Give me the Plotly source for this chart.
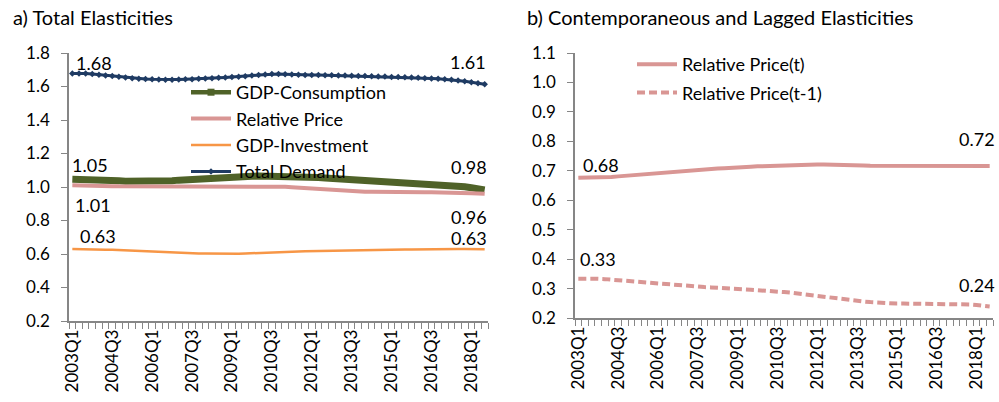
import plotly.graph_objects as go

# ---------------- data ----------------
quarters = [f"{y}Q{q}" for y in range(2003, 2019) for q in range(1, 5)][:63]  # 2003Q1..2018Q3

total_demand = [
    1.677, 1.678, 1.677, 1.674, 1.670, 1.666,
    1.662, 1.658, 1.654, 1.650, 1.647, 1.645,
    1.643, 1.642, 1.641, 1.641, 1.642, 1.643,
    1.644, 1.646, 1.648, 1.650, 1.652, 1.654,
    1.656, 1.658, 1.661, 1.665, 1.669, 1.672,
    1.674, 1.674, 1.673, 1.671, 1.670, 1.669,
    1.668, 1.668, 1.667, 1.667, 1.666, 1.665,
    1.664, 1.663, 1.662, 1.661, 1.660, 1.659,
    1.657, 1.656, 1.655, 1.654, 1.652, 1.650,
    1.648, 1.646, 1.643, 1.640, 1.636, 1.631,
    1.625, 1.619, 1.613]

gdp_consumption = [
    1.047, 1.047, 1.046, 1.045, 1.043, 1.041,
    1.039, 1.037, 1.035, 1.034, 1.033, 1.033,
    1.033, 1.034, 1.036, 1.038, 1.041, 1.044,
    1.047, 1.050, 1.053, 1.055, 1.057, 1.059,
    1.061, 1.062, 1.063, 1.064, 1.065, 1.065,
    1.065, 1.064, 1.063, 1.062, 1.060, 1.059,
    1.058, 1.056, 1.054, 1.052, 1.050, 1.048,
    1.046, 1.044, 1.042, 1.040, 1.038, 1.036,
    1.034, 1.032, 1.030, 1.028, 1.026, 1.024,
    1.021, 1.018, 1.015, 1.011, 1.007, 1.002,
    0.996, 0.990, 0.983]

relative_price = [
    1.010, 1.010, 1.009, 1.008, 1.007, 1.006,
    1.005, 1.004, 1.004, 1.004, 1.004, 1.004,
    1.004, 1.004, 1.004, 1.005, 1.005, 1.005,
    1.005, 1.006, 1.006, 1.006, 1.006, 1.006,
    1.006, 1.006, 1.006, 1.006, 1.005, 1.005,
    1.004, 1.003, 1.001, 0.999, 0.996, 0.993,
    0.990, 0.987, 0.984, 0.981, 0.979, 0.977,
    0.975, 0.973, 0.972, 0.971, 0.970, 0.969,
    0.969, 0.968, 0.968, 0.968, 0.968, 0.968,
    0.968, 0.968, 0.968, 0.967, 0.966, 0.965,
    0.963, 0.961, 0.959]

gdp_investment = [
    0.630, 0.630, 0.629, 0.628, 0.627, 0.626,
    0.625, 0.623, 0.621, 0.619, 0.617, 0.615,
    0.613, 0.611, 0.609, 0.608, 0.606, 0.605,
    0.604, 0.603, 0.603, 0.602, 0.602, 0.602,
    0.602, 0.602, 0.603, 0.605, 0.607, 0.609,
    0.611, 0.612, 0.613, 0.614, 0.615, 0.616,
    0.617, 0.618, 0.619, 0.620, 0.620, 0.621,
    0.622, 0.622, 0.623, 0.624, 0.624, 0.625,
    0.626, 0.626, 0.627, 0.627, 0.628, 0.628,
    0.629, 0.629, 0.629, 0.630, 0.630, 0.630,
    0.630, 0.629, 0.628]

rel_price_t = [
    0.676, 0.676, 0.676, 0.677, 0.678, 0.679,
    0.681, 0.683, 0.685, 0.687, 0.689, 0.691,
    0.693, 0.695, 0.697, 0.699, 0.700, 0.702,
    0.704, 0.705, 0.707, 0.708, 0.709, 0.711,
    0.712, 0.713, 0.714, 0.715, 0.716, 0.717,
    0.718, 0.719, 0.720, 0.720, 0.721, 0.721,
    0.721, 0.721, 0.721, 0.720, 0.720, 0.719,
    0.718, 0.718, 0.717, 0.717, 0.717, 0.716,
    0.716, 0.716, 0.717, 0.717, 0.717, 0.718,
    0.718, 0.718, 0.718, 0.718, 0.718, 0.718,
    0.717, 0.717, 0.716]

rel_price_t1 = [
    0.333, 0.334, 0.334, 0.333, 0.332, 0.330,
    0.329, 0.327, 0.325, 0.323, 0.321, 0.319,
    0.317, 0.315, 0.313, 0.311, 0.309, 0.308,
    0.306, 0.305, 0.304, 0.302, 0.301, 0.300,
    0.298, 0.297, 0.296, 0.295, 0.293, 0.292,
    0.290, 0.288, 0.286, 0.283, 0.280, 0.277,
    0.274, 0.271, 0.268, 0.265, 0.262, 0.260,
    0.258, 0.256, 0.254, 0.252, 0.251, 0.250,
    0.249, 0.249, 0.249, 0.249, 0.249, 0.249,
    0.249, 0.249, 0.248, 0.248, 0.247, 0.246,
    0.244, 0.242, 0.239]

label_every = 6
left_yticks = [0.2, 0.4, 0.6, 0.8, 1.0, 1.2, 1.4, 1.6, 1.8]
right_yticks = [0.2, 0.3, 0.4, 0.5, 0.6, 0.7, 0.8, 0.9, 1.0, 1.1]

# ---------------- styling ----------------
FONT = "Lato"
FS = 17      # tick labels
FL = 18      # legend / data labels
FT = 20      # panel titles
AXC = "#868686"
NAVY = "#1F3B63"
OLIVE = "#4F6228"
PINK = "#D99694"
ORANGE = "#F79646"

n = len(quarters)
xs = list(range(n))

fig = go.Figure()

# left panel
fig.add_trace(go.Scatter(x=xs, y=gdp_consumption, name="GDP-Consumption", mode="lines",
                         line=dict(color=OLIVE, width=7), showlegend=False,
                         xaxis="x", yaxis="y"))
fig.add_trace(go.Scatter(x=[None], y=[None], name="GDP-Consumption", mode="lines+markers",
                         line=dict(color=OLIVE, width=4.5), marker=dict(symbol="square", size=7, color=OLIVE),
                         xaxis="x", yaxis="y", legend="legend"))
fig.add_trace(go.Scatter(x=xs, y=relative_price, name="Relative Price", mode="lines",
                         line=dict(color=PINK, width=4), xaxis="x", yaxis="y", legend="legend"))
fig.add_trace(go.Scatter(x=xs, y=gdp_investment, name="GDP-Investment", mode="lines",
                         line=dict(color=ORANGE, width=2.5), xaxis="x", yaxis="y", legend="legend"))
fig.add_trace(go.Scatter(x=xs, y=total_demand, name="Total Demand", mode="lines+markers",
                         line=dict(color=NAVY, width=3), marker=dict(symbol="diamond", size=5, color=NAVY),
                         xaxis="x", yaxis="y", legend="legend"))

# right panel
fig.add_trace(go.Scatter(x=xs, y=rel_price_t, name="Relative Price(t)", mode="lines",
                         line=dict(color=PINK, width=4), xaxis="x2", yaxis="y2",
                         legend="legend2", legendgroup="a"))
fig.add_trace(go.Scatter(x=xs, y=rel_price_t1, name="Relative Price(t-1)", mode="lines",
                         line=dict(color=PINK, width=4, dash="8px,4px"), xaxis="x2", yaxis="y2",
                         legend="legend2", legendgroup="b"))


# data labels (first and last points)
def lab(series, idx, xref, yref, xshift, yshift):
    fig.add_annotation(x=idx, y=series[idx], xref=xref, yref=yref, text=f"{series[idx]:.2f}",
                       showarrow=False, xshift=xshift, yshift=yshift,
                       font=dict(family=FONT, size=FL, color="black"))


lab(total_demand, 0, "x", "y", 22, 11)
lab(total_demand, n - 1, "x", "y", -17, 22)
lab(gdp_consumption, 0, "x", "y", 18, 14)
lab(gdp_consumption, n - 1, "x", "y", -16, 23)
lab(relative_price, 0, "x", "y", 21, -20)
lab(relative_price, n - 1, "x", "y", -16, -23)
lab(gdp_investment, 0, "x", "y", 26, 13)
lab(gdp_investment, n - 1, "x", "y", -16, 11)
lab(rel_price_t, 0, "x2", "y2", 23, 13)
lab(rel_price_t, n - 1, "x2", "y2", -13, 27)
lab(rel_price_t1, 0, "x2", "y2", 20, 20)
lab(rel_price_t1, n - 1, "x2", "y2", -13, 22)

# titles
fig.add_annotation(x=11 / 999, y=1 - 17 / 402, xref="paper", yref="paper", xanchor="left", yanchor="middle",
                   text="a) Total Elasticities", showarrow=False, font=dict(family=FONT, size=FT, color="black"))
fig.add_annotation(x=525 / 999, y=1 - 17 / 402, xref="paper", yref="paper", xanchor="left", yanchor="middle",
                   text="b) Contemporaneous and Lagged Elasticities", showarrow=False,
                   font=dict(family=FONT, size=FT, color="black"))

tickvals = xs[::label_every]
ticktext = quarters[::label_every]

xaxis_common = dict(
    range=[-0.5, n - 0.5], showgrid=False, zeroline=False, showline=True, linecolor=AXC, linewidth=1.5,
    tickvals=tickvals, ticktext=ticktext, tickangle=-90, ticks="outside", ticklen=0, tickcolor=AXC,
    tickfont=dict(family=FONT, size=FS, color="black"), automargin=False,
    minor=dict(ticks="outside", ticklen=6, tickcolor=AXC, tick0=-0.5, dtick=1, showgrid=False),
)
yaxis_common = dict(
    showgrid=False, zeroline=False, showline=True, linecolor=AXC, linewidth=1.5, ticks="outside",
    ticklen=6, tickcolor=AXC, tickformat=".1f", tickfont=dict(family=FONT, size=FS, color="black"),
    ticklabelstandoff=8, automargin=False,
)

fig.update_layout(
    width=999, height=402, margin=dict(l=0, r=0, t=0, b=0, autoexpand=False),
    paper_bgcolor="white", plot_bgcolor="white",
    font=dict(family=FONT, size=FS, color="black"),
    xaxis=dict(domain=[69 / 999, 488 / 999], anchor="y", **xaxis_common),
    yaxis=dict(domain=[(402 - 321) / 402, (402 - 53) / 402], anchor="x", range=[0.2, 1.8],
               tickvals=left_yticks, **yaxis_common),
    xaxis2=dict(domain=[575 / 999, 993 / 999], anchor="y2", **xaxis_common),
    yaxis2=dict(domain=[(402 - 318) / 402, (402 - 53) / 402], anchor="x2", range=[0.2, 1.1],
                tickvals=right_yticks, **yaxis_common),
    legend=dict(x=186 / 999, y=1 - 74 / 402, xanchor="left", yanchor="top", bgcolor="rgba(0,0,0,0)",
                font=dict(family=FONT, size=FL), tracegroupgap=0, itemwidth=40),
    legend2=dict(x=632 / 999, y=1 - 46 / 402, xanchor="left", yanchor="top", bgcolor="rgba(0,0,0,0)",
                 font=dict(family=FONT, size=FL), tracegroupgap=2, itemwidth=40),
    showlegend=True,
)

fig.write_html("out.html", config={"displayModeBar": False},
               post_script="document.body.style.margin='0';")
